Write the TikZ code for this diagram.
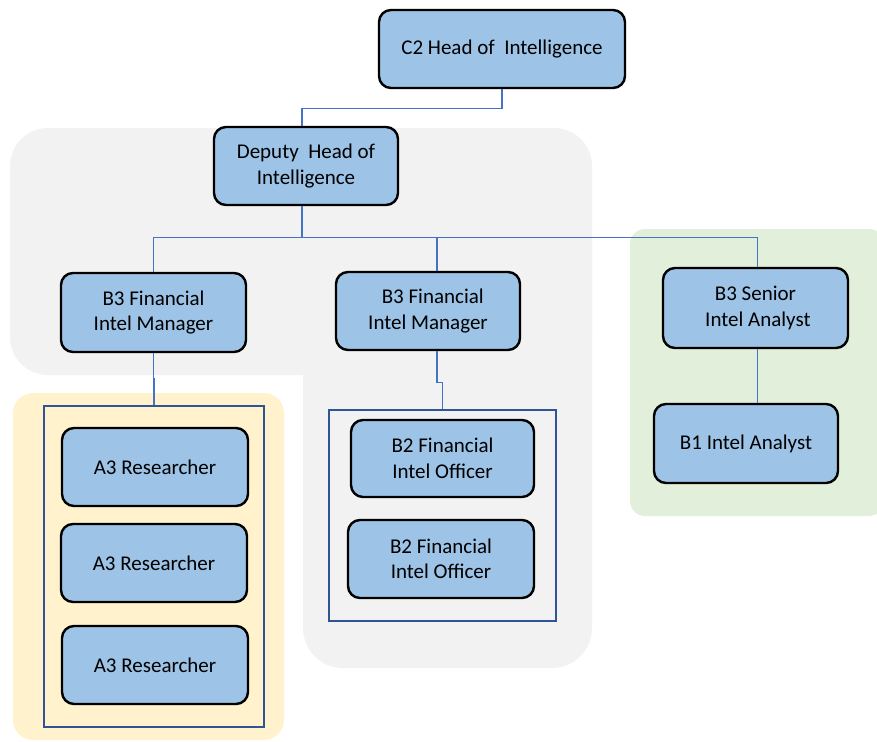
\documentclass[tikz,border=0pt]{standalone}
\usepackage{fontspec}
\setmainfont{Carlito}
\begin{document}
\begin{tikzpicture}[x=1pt,y=-1pt,
  role/.style={draw=black,line width=2.4pt,fill=nodeblue,rounded corners=12pt,
    minimum width=#1,align=center,inner sep=0pt,
    font=\fontsize{21}{25.5}\selectfont},
  grp/.style={draw=grpblue,line width=2pt,inner sep=0pt},
  conn/.style={draw=lineblue,line width=1.3pt}]
\definecolor{nodeblue}{HTML}{9DC3E6}
\definecolor{grpblue}{HTML}{2F5597}
\definecolor{lineblue}{HTML}{4472C4}
\definecolor{bggray}{HTML}{F2F2F2}
\definecolor{bgyellow}{HTML}{FFF2CC}
\definecolor{bggreen}{HTML}{E2EFDA}
\useasboundingbox (0,0) rectangle (877,741);
% backgrounds
\fill[bggray,rounded corners=38pt] (10,128) rectangle (592,375);
\fill[bggray,rounded corners=40pt] (303,200) rectangle (592,668);
\fill[bgyellow,rounded corners=20pt] (13,393) rectangle (284,740);
\fill[bggreen,rounded corners=15pt] (630,229) rectangle (884,516);
% groups
\node[grp,minimum width=220pt,minimum height=321pt] (grpA) at (154,566.5) {};
\node[grp,minimum width=227pt,minimum height=211pt] (grpB) at (442.5,515.5) {};
% roles
\node[role=246pt,minimum height=78pt] (c2) at (502,49) {C2 Head of\ \ Intelligence};
\node[role=184pt,minimum height=78pt] (dep) at (306,166) {Deputy\ \ Head of\\Intelligence};
\node[role=185pt,minimum height=79pt] (fiml) at (153.5,312.5) {B3 Financial\\Intel Manager};
\node[role=184pt,minimum height=78pt] (fimm) at (428,311) {\ \ B3 Financial\\Intel Manager};
\node[role=185pt,minimum height=80pt] (sen) at (755.5,308) {B3 Senior\\\ Intel Analyst};
\node[role=184pt,minimum height=79pt] (b1) at (746,443.5) {B1 Intel Analyst};
\node[role=186pt,minimum height=78pt] (a1) at (155,467) {A3 Researcher};
\node[role=186pt,minimum height=78pt] (a2) at (154,563) {A3 Researcher};
\node[role=186pt,minimum height=78pt] (a3) at (155,665) {A3 Researcher};
\node[role=183pt,minimum height=77pt] (o1) at (442.5,458.5) {B2 Financial\\Intel Officer};
\node[role=186pt,minimum height=78pt] (o2) at (441,559) {B2 Financial\\Intel Officer};
% connectors
\draw[conn] (c2.south) -- ++(0,19) -| ([xshift=-4pt]dep.north);
\draw[conn] ([xshift=-4pt]dep.south) -- ++(0,31) coordinate (bus);
\draw[conn] (bus) -| (fiml.north);
\draw[conn] (bus) -| ([xshift=9pt]fimm.north);
\draw[conn] (bus) -| ([xshift=2pt]sen.north);
\draw[conn] (fiml.south) -- ++(0,25) -| (grpA.north);
\draw[conn] ([xshift=9pt]fimm.south) -- ++(0,31) -| (grpB.north);
\draw[conn] ([xshift=2pt]sen.south) -- ([xshift=2pt]sen.south |- b1.north);
\end{tikzpicture}
\end{document}
